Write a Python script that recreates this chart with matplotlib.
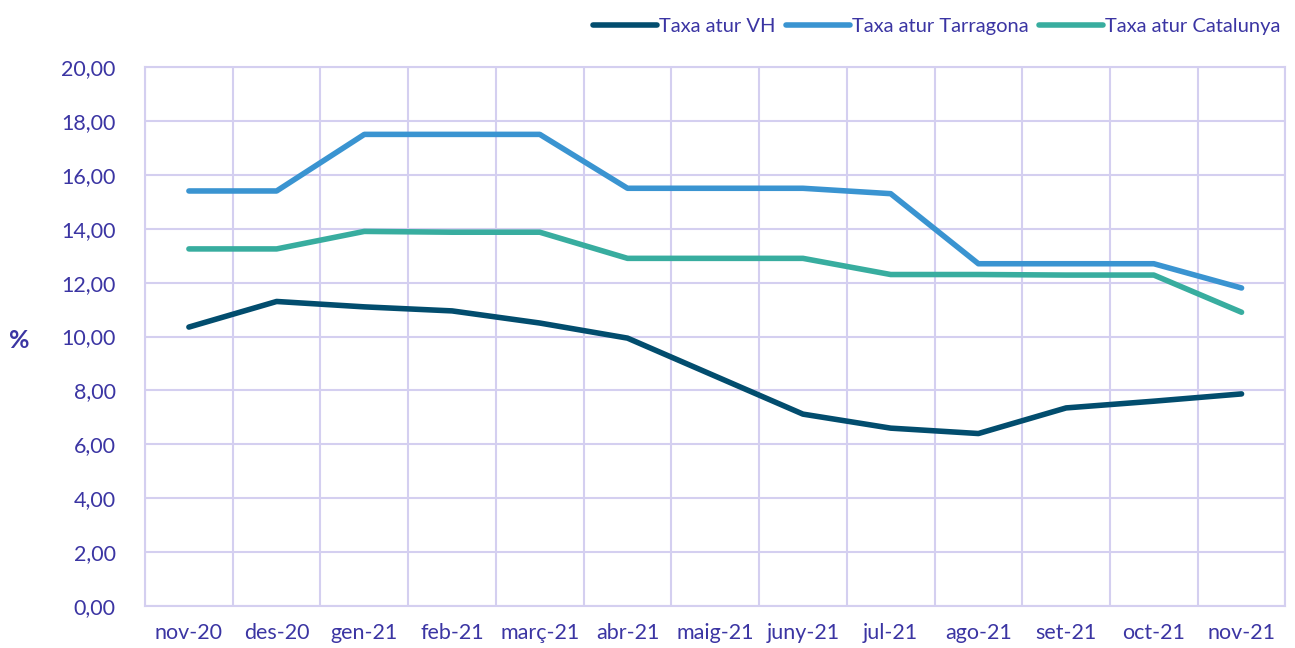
import numpy as np
import matplotlib.pyplot as plt

months = ['nov-20', 'des-20', 'gen-21', 'feb-21', 'març-21', 'abr-21', 'maig-21',
          'juny-21', 'jul-21', 'ago-21', 'set-21', 'oct-21', 'nov-21']
taxa_vh = [10.35, 11.3, 11.1, 10.95, 10.5, 9.94, 8.53, 7.12, 6.6, 6.4, 7.35, 7.6, 7.87]
taxa_tarragona = [15.4, 15.4, 17.5, 17.5, 17.5, 15.5, 15.5, 15.5, 15.3, 12.7, 12.7, 12.7, 11.8]
taxa_catalunya = [13.25, 13.25, 13.9, 13.87, 13.87, 12.9, 12.9, 12.9, 12.3, 12.3, 12.28, 12.28, 10.9]

txt = '#3b35a3'
grid = '#d4cff0'
plt.rcParams['font.family'] = ['Lato', 'DejaVu Sans']

fig = plt.figure(figsize=(12.95, 6.48), dpi=100)
ax = fig.add_axes([0.112, 0.0648, 0.8806, 0.8318])
x = np.arange(len(months))
ax.plot(x, taxa_vh, color='#024d6e', lw=4, solid_capstyle='round', label='Taxa atur VH')
ax.plot(x, taxa_tarragona, color='#3a94d1', lw=4, solid_capstyle='round', label='Taxa atur Tarragona')
ax.plot(x, taxa_catalunya, color='#38ad9f', lw=4, solid_capstyle='round', label='Taxa atur Catalunya')

ax.set_xlim(-0.5, len(months) - 0.5)
ax.set_ylim(0, 20)
ax.set_yticks(np.arange(0, 21, 2))
ax.set_yticklabels([f'{v:.2f}'.replace('.', ',') for v in np.arange(0, 21, 2)])
ax.set_xticks(x)
ax.set_xticklabels(months)
ax.set_xticks(np.arange(-0.5, len(months)), minor=True)
ax.grid(True, which='minor', axis='x', color=grid, lw=1.5)
ax.grid(True, which='major', axis='y', color=grid, lw=1.5)
ax.set_axisbelow(True)
for s in ax.spines.values():
    s.set_color(grid)
    s.set_linewidth(1.5)
ax.tick_params(which='both', length=0, labelsize=15.5, labelcolor=txt)
ax.tick_params(axis='y', pad=21)
ax.tick_params(axis='x', pad=12)
fig.text(0.007, 0.475, '%', color=txt, fontsize=18, fontweight='bold', va='center')

ax.legend(loc='lower right', bbox_to_anchor=(1.003, 1.045), ncol=3, frameon=False,
          fontsize=14.5, labelcolor=txt, handlelength=3.2, handletextpad=0.1,
          columnspacing=0.5, borderaxespad=0)

fig.savefig('out.png', dpi=100)
